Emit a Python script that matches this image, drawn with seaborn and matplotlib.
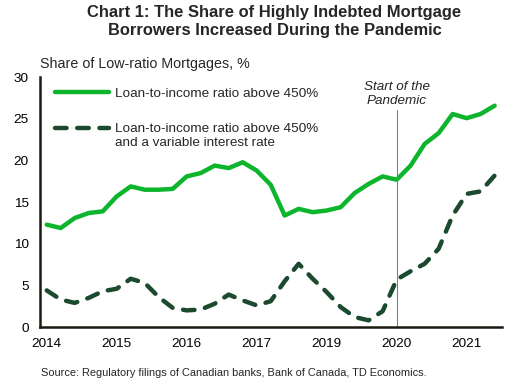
import matplotlib
matplotlib.use("Agg")
import matplotlib.pyplot as plt
import seaborn as sns
import pandas as pd
from matplotlib.lines import Line2D

lti_above_450 = [12.3, 11.9, 13.1, 13.7, 13.9, 15.7, 16.9, 16.5, 16.5, 16.6,
                 18.1, 18.5, 19.4, 19.1, 19.8, 18.8, 17.1, 13.4, 14.2, 13.8,
                 14.0, 14.4, 16.1, 17.2, 18.1, 17.7, 19.4, 22.0, 23.3, 25.6,
                 25.1, 25.6, 26.6]
lti_above_450_variable = [4.4, 3.3, 2.9, 3.5, 4.3, 4.6, 5.8, 5.3, 3.6, 2.3,
                          2.0, 2.1, 2.8, 3.9, 3.2, 2.6, 3.1, 5.5, 7.6, 5.8,
                          4.2, 2.4, 1.2, 0.8, 1.9, 5.7, 6.7, 7.6, 9.4, 13.4,
                          16.0, 16.3, 18.2]
tick_positions = [0, 5, 10, 15, 20, 25, 30]
tick_labels = ["2014", "2015", "2016", "2017", "2019", "2020", "2021"]
pandemic_idx = 25

green = "#0db52d"
dark_green = "#1b4a2e"

df = pd.DataFrame({
    "idx": range(len(lti_above_450)),
    "solid": lti_above_450,
    "dashed": lti_above_450_variable,
})

sns.set_theme(style="white")
plt.rcParams["font.family"] = ["Liberation Sans", "DejaVu Sans"]

fig = plt.figure(figsize=(5.15, 3.85), dpi=100)
ax = fig.add_axes([0.0777, 0.1506, 0.8963, 0.6484])

sns.lineplot(data=df, x="idx", y="solid", ax=ax, color=green, lw=3.2)
sns.lineplot(data=df, x="idx", y="dashed", ax=ax, color=dark_green, lw=3.2)
ax.lines[1].set_dashes((2.6, 2.4))
ax.lines[1].set_dash_capstyle("round")

ax.set_xlim(-0.48, 32.5)
ax.set_ylim(0, 30)
ax.set_yticks(range(0, 31, 5))
ax.set_xticks(tick_positions)
ax.set_xticklabels(tick_labels)
ax.set_xlabel("")
ax.set_ylabel("")
ax.tick_params(axis="both", length=0, labelsize=9.7, colors="black")
ax.tick_params(axis="x", pad=8)
ax.tick_params(axis="y", pad=8)
for side in ["top", "right"]:
    ax.spines[side].set_visible(False)
for side in ["left", "bottom"]:
    ax.spines[side].set_color("#1a1a10")
    ax.spines[side].set_linewidth(1.8)

# Pandemic marker
ax.axvline(pandemic_idx, ymin=0, ymax=0.869, color="#808080", lw=0.8)
ax.text(pandemic_idx, 28.0, "Start of the\nPandemic", ha="center", va="center",
        fontsize=9.7, style="italic", linespacing=1.2, clip_on=False)

handles = [
    Line2D([], [], color=green, lw=3.2),
    Line2D([], [], color=dark_green, lw=3.2, dashes=(2.6, 2.4), dash_capstyle="round"),
]
labels = ["Loan-to-income ratio above 450%", "Loan-to-income ratio above 450%"]
leg = ax.legend(handles, labels, loc="upper left", bbox_to_anchor=(0.013, 0.998),
                frameon=False, fontsize=9.7, handlelength=4.0, handletextpad=0.45,
                labelspacing=1.72, borderaxespad=0.3)
# second line of the dashed entry, hung under its label
ax.annotate("and a variable interest rate", xy=(0, 0), xycoords=leg.get_texts()[1],
            xytext=(0, -1.5), textcoords="offset points", ha="left", va="top",
            fontsize=9.7, zorder=10)

fig.text(274.5 / 515, 1 - 12 / 385, "Chart 1: The Share of Highly Indebted Mortgage",
         ha="center", va="center", fontsize=11.9, fontweight="bold")
fig.text(274.5 / 515, 1 - 31 / 385, "Borrowers Increased During the Pandemic",
         ha="center", va="center", fontsize=11.9, fontweight="bold")
fig.text(40 / 515, 1 - 64 / 385, "Share of Low-ratio Mortgages, %",
         ha="left", va="center", fontsize=10.3)
fig.text(41 / 515, 1 - 373 / 385,
         "Source: Regulatory filings of Canadian banks, Bank of Canada, TD Economics.",
         ha="left", va="center", fontsize=7.9)

fig.savefig("out.png", dpi=100, facecolor="white")
plt.close(fig)
